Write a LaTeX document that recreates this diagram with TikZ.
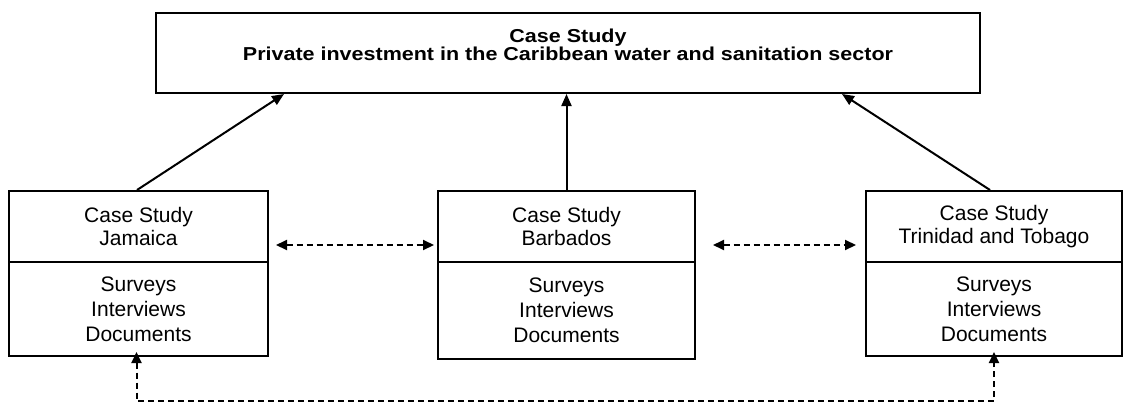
\documentclass[tikz,border=0pt]{standalone}
\usepackage{fontspec}
\setmainfont{Liberation Sans}
\newfontfamily\titlefont[FakeStretch=1.15]{Liberation Sans}
\usetikzlibrary{arrows.meta,calc}
\begin{document}
\begin{tikzpicture}[x=1pt,y=-1pt,
  box/.style={draw,line width=2pt,rectangle,inner sep=0pt,align=center},
  headbox/.style={box,font=\fontsize{21}{23}\selectfont},
  listbox/.style={box,font=\fontsize{21}{25}\selectfont},
  tip/.style={Triangle[length=11pt,width=10pt]},
  link/.style={line width=2pt,-{Triangle[length=12pt,width=10pt]}},
  dlink/.style={line width=2pt,dash pattern=on 6pt off 4pt,{Triangle[length=11pt,width=10pt]}-{Triangle[length=11pt,width=10pt]}}]
\useasboundingbox (0,0) rectangle (1123,407);
% overall case study
\node[box,minimum width=824pt,minimum height=80pt] (top) at (568,53) {};
\node[align=center,inner sep=0pt,font=\titlefont\bfseries\fontsize{18.7}{17}\selectfont]
  (toptext) at ($(top.center)+(0,-8)$) {Case Study\\Private investment in the Caribbean water and sanitation sector};
% Jamaica
\node[headbox,minimum width=259pt,minimum height=71pt] (ju) at (138.5,226.5) {Case Study\\Jamaica};
\node[listbox,minimum width=259pt,minimum height=94pt] (jl) at (138.5,309) {Surveys\\Interviews\\Documents};
% Barbados
\node[headbox,minimum width=257pt,minimum height=71pt] (bu) at (566.5,226.5) {Case Study\\Barbados};
\node[listbox,minimum width=257pt,minimum height=97pt] (bl) at (566.5,310.5) {Surveys\\Interviews\\Documents};
% Trinidad and Tobago
\node[headbox,minimum width=256pt,minimum height=71pt] (tu) at (994,226.5) {Case Study\\Trinidad and Tobago};
\node[listbox,minimum width=256pt,minimum height=94pt] (tl) at (994,309) {Surveys\\Interviews\\Documents};
% links to the overall study
\draw[link] ([xshift=-1.5pt]ju.north) -- ([xshift=129pt]top.south west);
\draw[link] (bu.north) -- (bu.north |- top.south);
\draw[link] ([xshift=-4pt]tu.north) -- ([xshift=-139pt]top.south east);
% comparisons between countries
\draw[dlink] ($(ju.east)+(7,18.5)$) -- ($(bu.west)+(-3,18.5)$);
\draw[dlink] ($(bu.east)+(17,18.5)$) -- ($(tu.west)+(-9,18.5)$);
\coordinate (jb) at ($(jl.south)+(-2,44)$);
\coordinate (tb) at ($(tl.south)+(0,44)$);
\draw[dlink] ([xshift=-2pt,yshift=5pt]jl.south) -- (jb) -- (tb) -- ([yshift=5pt]tl.south);
\end{tikzpicture}
\end{document}
